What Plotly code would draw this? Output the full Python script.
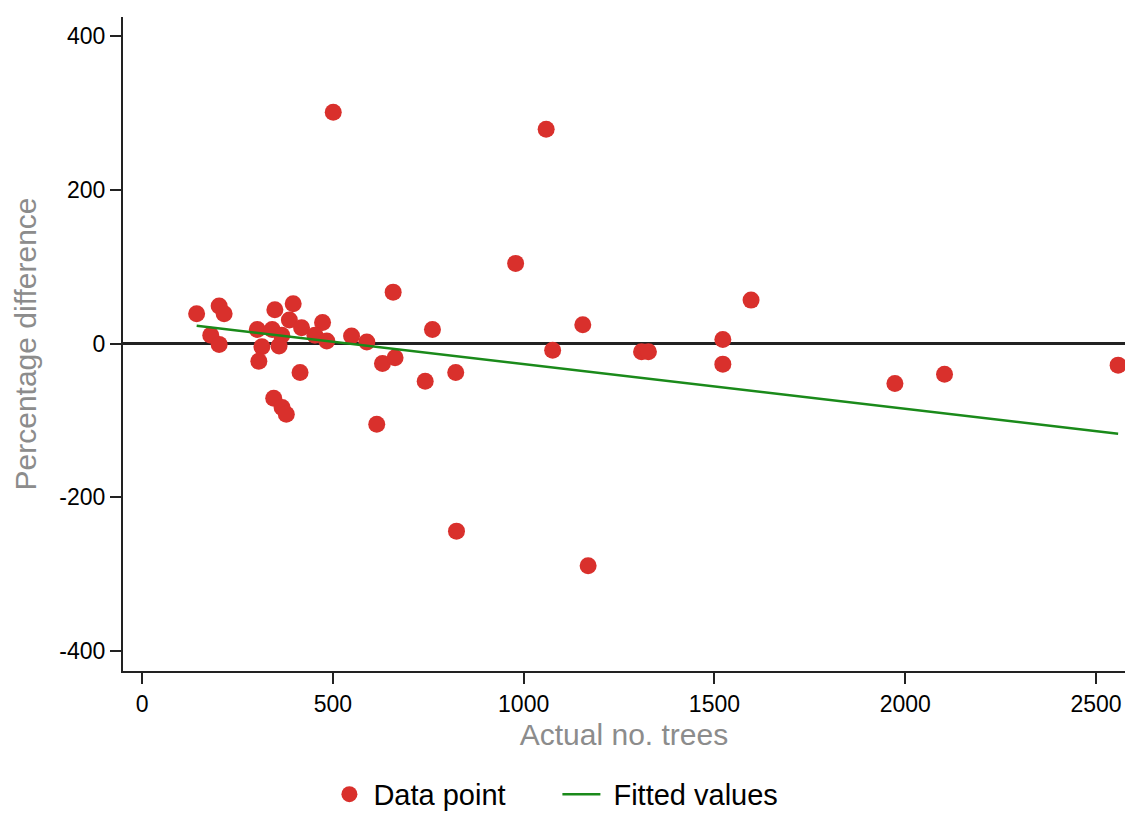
import plotly.graph_objects as go

# Actual number of trees vs. percentage difference of the estimate
actual_trees = [143, 202, 215, 180, 202, 302, 314, 306, 348, 396, 341, 366,
                386, 418, 473, 453, 484, 359, 414, 345, 367, 378, 549, 589,
                658, 630, 663, 761, 742, 615, 822, 501, 1059, 824, 1169, 979,
                1076, 1155, 1309, 1327, 1522, 1522, 1596, 1973, 2103, 2558]
pct_difference = [39, 49, 39, 11, -1, 18.5, -4, -23, 44, 52, 18.5, 11,
                  30.6, 20.6, 27.6, 11, 3.3, -3, -37.5, -71, -83, -92, 10, 2,
                  67, -26, -18.5, 18.5, -49, -105, -37.5, 301, 279, -244, -289, 104.4,
                  -8.5, 24.5, -10.6, -10.6, 5.4, -26.7, 56.6, -52, -40, -28]

# Linear fit, evaluated at the smallest and largest observation
fit_x = [143, 2558]
fit_y = [23.2, -117.2]

x_ticks = [0, 500, 1000, 1500, 2000, 2500]
x_tick_labels = ["0", "500", "1000", "1500", "2000", "2500"]
y_ticks = [-400, -200, 0, 200, 400]
y_tick_labels = ["-400", "-200", "0", "200", "400"]

FONT = "Arial, 'Liberation Sans', sans-serif"
AXIS_COLOR = "#222222"
TITLE_COLOR = "#8c8c8c"

fig = go.Figure()
fig.add_trace(go.Scatter(
    x=actual_trees, y=pct_difference, mode="markers", name="Data point",
    marker=dict(color="#d9302c", size=17, line=dict(width=0)),
))
fig.add_trace(go.Scatter(
    x=fit_x, y=fit_y, mode="lines", name="\u00a0Fitted values",
    line=dict(color="#1a8a1a", width=2.5),
))

fig.update_layout(
    width=1125, height=813,
    margin=dict(l=123, r=0, t=17, b=142, autoexpand=False),
    paper_bgcolor="white", plot_bgcolor="white",
    font=dict(family=FONT, color="black"),
    showlegend=True,
    legend=dict(
        orientation="h", x=0.202, xanchor="left", y=-0.1885, yanchor="middle",
        font=dict(size=29, color="black"), entrywidth=179, itemwidth=38,
        bgcolor="rgba(0,0,0,0)",
    ),
    xaxis=dict(
        range=[-50, 2576], tickvals=x_ticks, ticktext=x_tick_labels,
        showgrid=False, zeroline=False,
        showline=True, linecolor=AXIS_COLOR, linewidth=2,
        ticks="outside", ticklen=11, tickwidth=2, tickcolor=AXIS_COLOR,
        tickfont=dict(size=23, color="black"),
        title=dict(text="Actual no. trees", font=dict(size=30, color=TITLE_COLOR), standoff=8),
    ),
    yaxis=dict(
        range=[-426, 425], tickvals=y_ticks, ticktext=y_tick_labels,
        showgrid=False,
        zeroline=True, zerolinecolor=AXIS_COLOR, zerolinewidth=3,
        showline=True, linecolor=AXIS_COLOR, linewidth=2,
        ticks="outside", ticklen=11, tickwidth=2, tickcolor=AXIS_COLOR,
        tickfont=dict(size=23, color="black"),
        title=dict(text="Percentage difference", font=dict(size=30, color=TITLE_COLOR), standoff=14),
    ),
)

fig.write_html("out.html")
